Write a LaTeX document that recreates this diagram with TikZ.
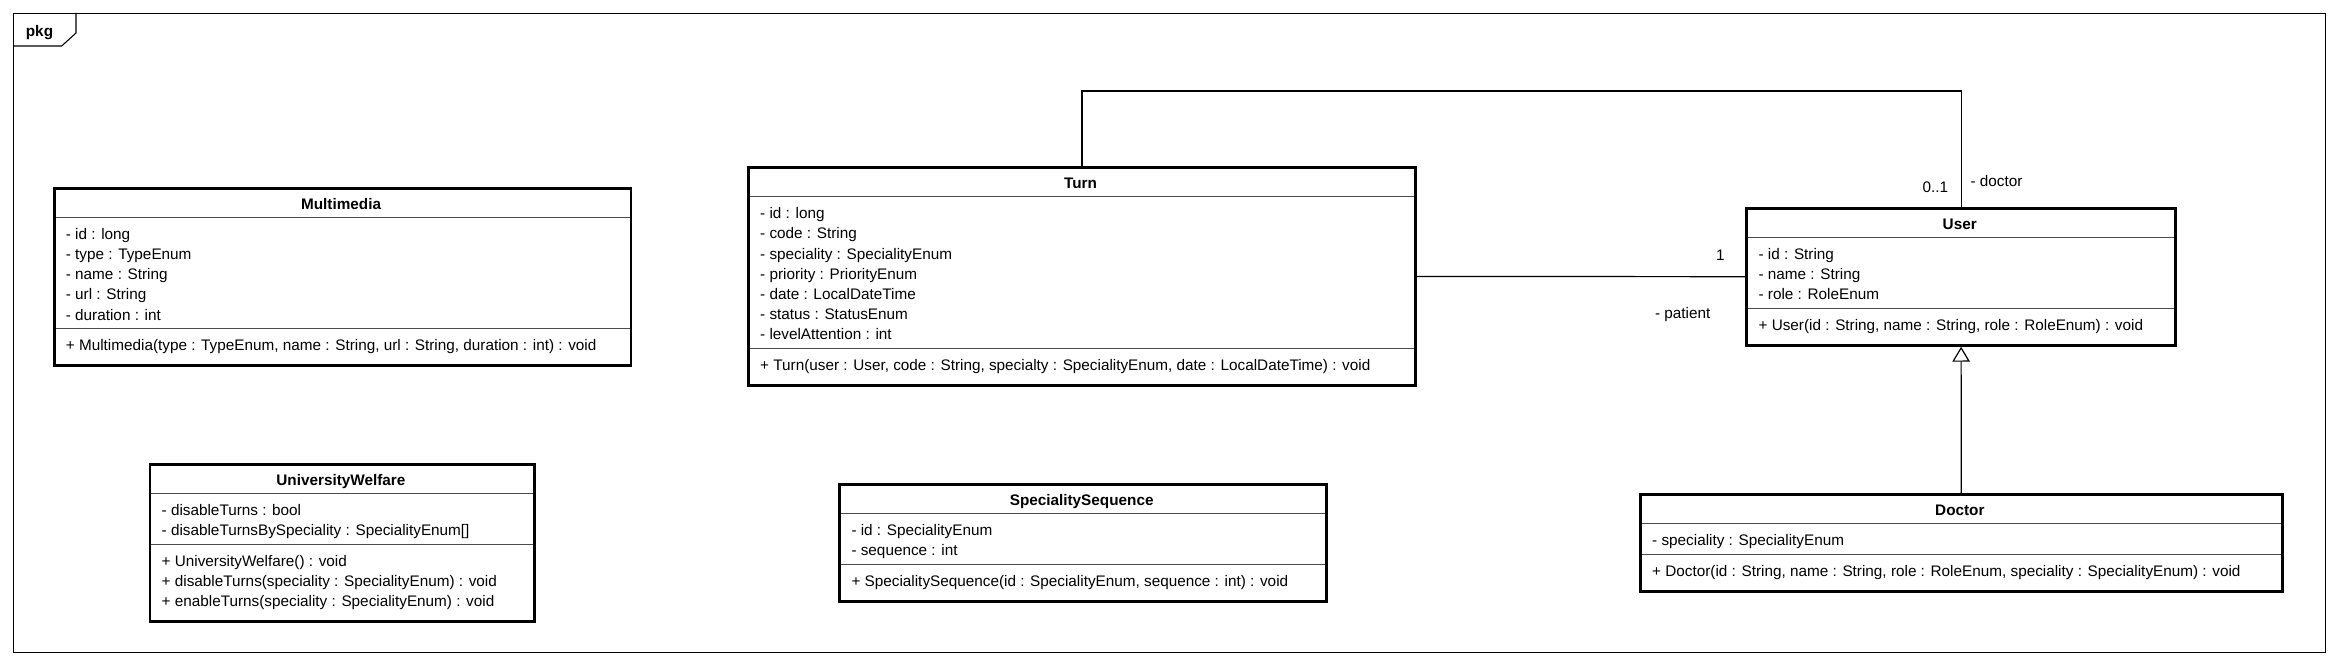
\documentclass[tikz,border=0pt]{standalone}
\usepackage{fontspec}
\setmainfont{Liberation Sans}
\usetikzlibrary{arrows.meta}
\tikzset{
  classbox/.style={draw=black, line width=2.8pt, inner sep=0pt},
  sepline/.style={draw=black!70, line width=1pt},
  titletext/.style={font=\fontsize{15.3}{20.2}\selectfont\bfseries, inner sep=0pt},
  linetext/.style={font=\fontsize{15.3}{20.2}\selectfont, inner sep=0pt},
  conn/.style={draw=black, line width=1.2pt},
  framebox/.style={draw=black, line width=1.1pt, inner sep=0pt},
}
% #1 name, #2 left, #3 top, #4 right, #5 nb attrs, #6 nb methods, #7 title, #8 attrs, #9 methods
\newcommand\umlclass[9]{%
  \pgfmathsetmacro\ucA{#3+30.6}%
  \pgfmathsetmacro\ucB{\ucA+20.2*#5+10.5}%
  \pgfmathsetmacro\ucC{\ucB+20.2*#6+15.3}%
  \pgfmathsetmacro\ucW{#4-#2}%
  \pgfmathsetmacro\ucH{\ucC-#3}%
  \pgfmathsetmacro\ucM{(#2+#4)/2}%
  \draw[sepline] (#2,\ucA) -- (#4,\ucA);
  \draw[sepline] (#2,\ucB) -- (#4,\ucB);
  \node[classbox, minimum width=\ucW pt, minimum height=\ucH pt, anchor=north west] (#1) at (#2,#3) {};
  \node[titletext, anchor=base] (#1-title) at (\ucM,#3+22.5) {#7};
  \foreach \itm [count=\k from 0] in {#8} {\node[linetext, anchor=base west] (#1-a\k) at (#2+13,\ucA+22+20.2*\k) {\itm};}
  \foreach \itm [count=\k from 0] in {#9} {\node[linetext, anchor=base west] (#1-m\k) at (#2+13,\ucB+21.9+20.2*\k) {\itm};}
}
\begin{document}
\begin{tikzpicture}[x=1pt,y=-1pt]
\useasboundingbox (0,0) rectangle (2338,666);
% package frame
\node[framebox, minimum width=2312pt, minimum height=639pt, anchor=north west] (frame) at (13,13) {};
\draw[framebox] (13,46) -- (61.7,46) -- (76,33) -- (76,13);
\node[titletext, anchor=base west] (pkg) at (25.7,36.5) {pkg};

\umlclass{multimedia}{52.7}{186.7}{629.5}{5}{1}{Multimedia}
  {- id : long, - type : TypeEnum, - name : String, - url : String, - duration : int}
  {{+ Multimedia(type : TypeEnum, name : String, url : String, duration : int) : void}}

\umlclass{turn}{747}{166}{1414}{7}{1}{Turn}
  {- id : long, - code : String, - speciality : SpecialityEnum, - priority : PriorityEnum, - date : LocalDateTime, - status : StatusEnum, - levelAttention : int}
  {{+ Turn(user : User, code : String, specialty : SpecialityEnum, date : LocalDateTime) : void}}

\umlclass{user}{1745.4}{206.7}{2174}{3}{1}{User}
  {- id : String, - name : String, - role : RoleEnum}
  {{+ User(id : String, name : String, role : RoleEnum) : void}}

\umlclass{doctor}{1639}{493.3}{2280.7}{1}{1}{Doctor}
  {- speciality : SpecialityEnum}
  {{+ Doctor(id : String, name : String, role : RoleEnum, speciality : SpecialityEnum) : void}}

\umlclass{welfare}{148.5}{462.7}{533.3}{2}{3}{UniversityWelfare}
  {- disableTurns : bool, - disableTurnsBySpeciality : SpecialityEnum[]}
  {+ UniversityWelfare() : void, + disableTurns(speciality : SpecialityEnum) : void, + enableTurns(speciality : SpecialityEnum) : void}

\umlclass{sequence}{838.3}{482.7}{1325}{2}{1}{SpecialitySequence}
  {- id : SpecialityEnum, - sequence : int}
  {{+ SpecialitySequence(id : SpecialityEnum, sequence : int) : void}}

% associations
\coordinate (topbend) at (1500,91);
\draw[conn] (turn.north) |- (topbend) -| (user.north);
\node[linetext, anchor=base east] (mult01) at ([shift={(-12.7,-14.3)}]user.north) {0..1};
\node[linetext, anchor=base west] (roledoctor) at ([shift={(9.3,-20.7)}]user.north) {- doctor};

\draw[conn] (turn.east) -- (user.west);
\node[linetext, anchor=base east] (mult1) at ([shift={(-20.5,-16.5)}]user.west) {1};
\node[linetext, anchor=base east] (rolepatient) at ([shift={(-34.8,42)}]user.west) {- patient};

% generalization
\draw[conn, -{Triangle[open, length=15pt, width=17.5pt, line width=1.2pt]}] (doctor.north) -- (user.south);
\end{tikzpicture}
\end{document}
